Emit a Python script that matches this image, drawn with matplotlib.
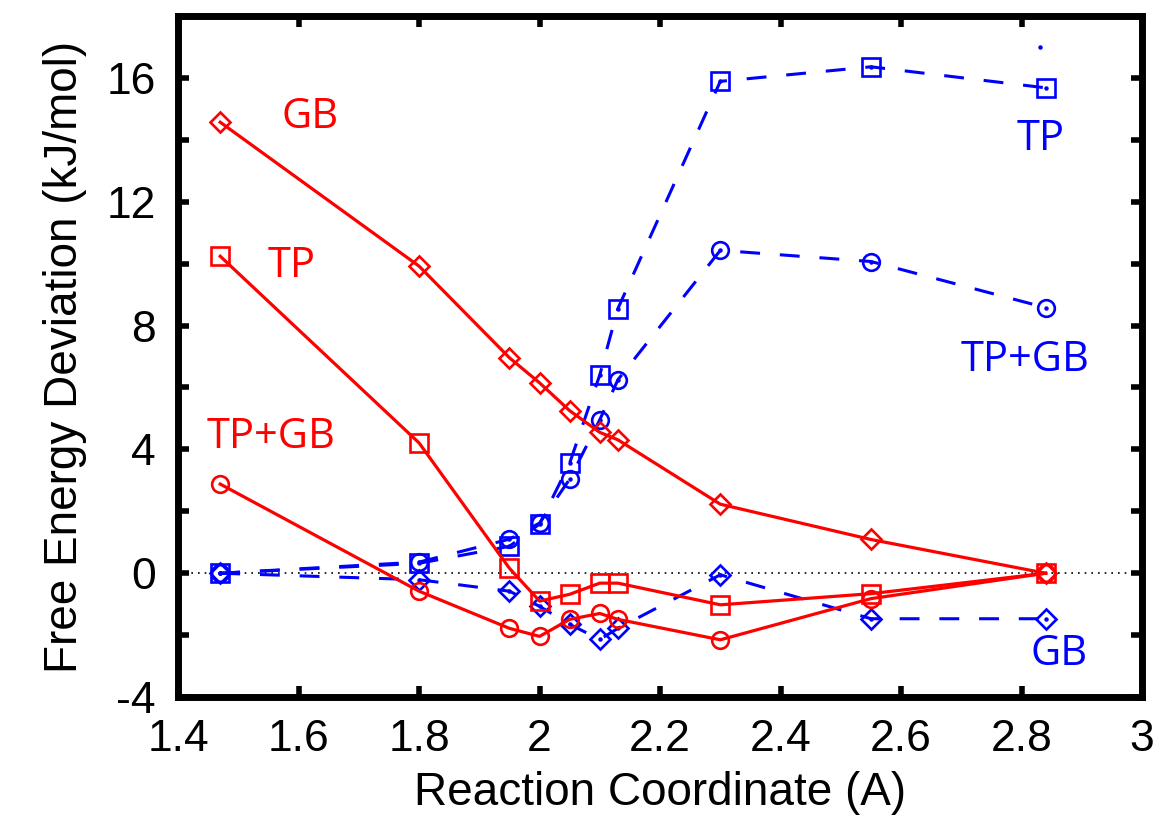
import matplotlib
matplotlib.use("Agg")
import matplotlib.pyplot as plt
from matplotlib.ticker import MultipleLocator

plt.rcParams['font.family'] = ['Liberation Sans', 'DejaVu Sans']
plt.rcParams['axes.unicode_minus'] = False

# reaction coordinate (A)
x = [1.47, 1.8, 1.95, 2.0, 2.05, 2.1, 2.13, 2.3, 2.55, 2.84]

# red (solid) series
red_gb = [14.57, 9.92, 6.96, 6.15, 5.25, 4.55, 4.31, 2.23, 1.09, 0.0]
red_tp = [10.24, 4.21, 0.16, -0.90, -0.68, -0.32, -0.32, -1.02, -0.66, 0.0]
red_tpgb = [2.88, -0.58, -1.78, -2.04, -1.49, -1.30, -1.49, -2.15, -0.82, 0.0]

# blue (dashed) series
blue_tp = [0.0, 0.32, 0.87, 1.59, 3.56, 6.41, 8.55, 15.89, 16.36, 15.68]
blue_tpgb = [0.0, 0.36, 1.10, 1.62, 3.04, 4.96, 6.25, 10.43, 10.07, 8.58]
blue_gb = [0.0, -0.21, -0.58, -1.07, -1.65, -2.14, -1.78, -0.05, -1.47, -1.47]

# stray dot near the top right
stray_x = [2.83]
stray_y = [17.0]

RED = '#ff0000'
BLUE = '#0000ff'

fig = plt.figure(figsize=(11.66, 8.22), dpi=100)
ax = fig.add_axes([0.1527, 0.152, 0.8268, 0.8285])

ax.axhline(0, color='black', lw=1.2, linestyle=(0, (1, 3)), zorder=1)

dash = (0, (6.5, 6.5))
mk = dict(markerfacecolor='none', markeredgewidth=1.9)

ax.plot(x, blue_gb, color=BLUE, lw=2.2, linestyle=dash, marker='D', ms=10, zorder=2, **mk)
ax.plot(x, blue_tpgb, color=BLUE, lw=2.2, linestyle=dash, marker='o', ms=12, zorder=2, **mk)
ax.plot(x, blue_tp, color=BLUE, lw=2.2, linestyle=dash, marker='s', ms=13.5, zorder=2, **mk)
for ys in (blue_gb, blue_tpgb, blue_tp):
    ax.plot(x, ys, linestyle='none', marker='o', ms=2.2, color=BLUE, zorder=2)
ax.plot(stray_x, stray_y, linestyle='none', marker='o', ms=2.2, color=BLUE)

ax.plot(x, red_tpgb, color=RED, lw=2.3, marker='o', ms=12, zorder=3, **mk)
ax.plot(x, red_tp, color=RED, lw=2.3, marker='s', ms=13.5, zorder=3, **mk)
ax.plot(x, red_gb, color=RED, lw=2.3, marker='D', ms=10, zorder=3, **mk)

lab = dict(family=['Open Sans', 'DejaVu Sans'], fontsize=30, ha='center', va='center')
ax.text(1.619, 14.74, 'GB', color=RED, **lab)
ax.text(1.589, 9.94, 'TP', color=RED, **lab)
ax.text(1.554, 4.40, 'TP+GB', color=RED, **lab)
ax.text(2.831, 14.03, 'TP', color=BLUE, **lab)
ax.text(2.806, 6.90, 'TP+GB', color=BLUE, **lab)
ax.text(2.863, -2.61, 'GB', color=BLUE, **lab)

ax.set_xlim(1.4, 3.0)
ax.set_ylim(-4, 18)
ax.yaxis.set_minor_locator(MultipleLocator(2))
ax.set_xticks([1.4, 1.6, 1.8, 2.0, 2.2, 2.4, 2.6, 2.8, 3.0])
ax.set_xticklabels(['1.4', '1.6', '1.8', '2', '2.2', '2.4', '2.6', '2.8', '3'])
ax.set_yticks([-4, 0, 4, 8, 12, 16])

ax.tick_params(which='both', direction='in', top=True, right=True,
               length=8, width=4, labelsize=32, pad=16)

for s in ax.spines.values():
    s.set_linewidth(5)

ax.set_xlabel('Reaction Coordinate (A)', fontsize=33, labelpad=8)
ax.set_ylabel('Free Energy Deviation (kJ/mol)', fontsize=33, labelpad=14)

fig.savefig('out.png', dpi=100)
